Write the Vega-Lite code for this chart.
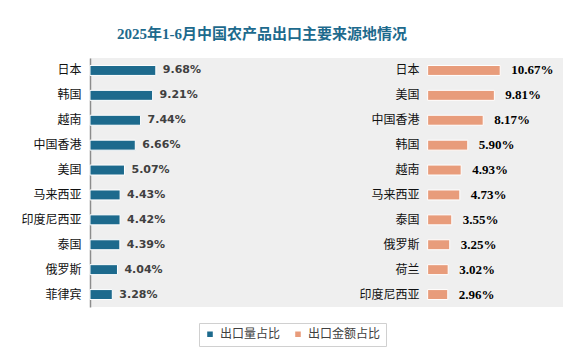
{
  "$schema": "https://vega.github.io/schema/vega-lite/v6.json",
  "background": "#ffffff",
  "padding": {"left": 20, "top": 27, "right": 25, "bottom": 16},
  "title": {"text": "2025年1-6月中国农产品出口主要来源地情况", "fontSize": 15, "font": "Liberation Serif, Noto Sans CJK SC", "fontWeight": "bold", "color": "#1d6a8d", "anchor": "middle", "offset": 16, "dx": -30},
  "data": {"values": [
    {"series": "出口量占比", "country": "日本", "value": 9.68, "label": "9.68%"},
    {"series": "出口量占比", "country": "韩国", "value": 9.21, "label": "9.21%"},
    {"series": "出口量占比", "country": "越南", "value": 7.44, "label": "7.44%"},
    {"series": "出口量占比", "country": "中国香港", "value": 6.66, "label": "6.66%"},
    {"series": "出口量占比", "country": "美国", "value": 5.07, "label": "5.07%"},
    {"series": "出口量占比", "country": "马来西亚", "value": 4.43, "label": "4.43%"},
    {"series": "出口量占比", "country": "印度尼西亚", "value": 4.42, "label": "4.42%"},
    {"series": "出口量占比", "country": "泰国", "value": 4.39, "label": "4.39%"},
    {"series": "出口量占比", "country": "俄罗斯", "value": 4.04, "label": "4.04%"},
    {"series": "出口量占比", "country": "菲律宾", "value": 3.28, "label": "3.28%"},
    {"series": "出口金额占比", "country": "日本", "value": 10.67, "label": "10.67%"},
    {"series": "出口金额占比", "country": "美国", "value": 9.81, "label": "9.81%"},
    {"series": "出口金额占比", "country": "中国香港", "value": 8.17, "label": "8.17%"},
    {"series": "出口金额占比", "country": "韩国", "value": 5.90, "label": "5.90%"},
    {"series": "出口金额占比", "country": "越南", "value": 4.93, "label": "4.93%"},
    {"series": "出口金额占比", "country": "马来西亚", "value": 4.73, "label": "4.73%"},
    {"series": "出口金额占比", "country": "泰国", "value": 3.55, "label": "3.55%"},
    {"series": "出口金额占比", "country": "俄罗斯", "value": 3.25, "label": "3.25%"},
    {"series": "出口金额占比", "country": "荷兰", "value": 3.02, "label": "3.02%"},
    {"series": "出口金额占比", "country": "印度尼西亚", "value": 2.96, "label": "2.96%"}
  ]},
  "spacing": 0,
  "hconcat": [
    {
      "width": 205,
      "height": 249,
      "transform": [{"filter": "datum.series === '出口量占比'"}],
      "encoding": {
        "y": {"field": "country", "type": "nominal", "sort": {"field": "value", "order": "descending"},
          "scale": {"paddingInner": 0.6, "paddingOuter": 0.3},
          "axis": {"title": null, "ticks": false, "domainColor": "#8c8c8c", "domainWidth": 1.5, "labelFontSize": 12, "labelColor": "#111111", "labelPadding": 9, "labelFont": "Noto Sans CJK SC"}},
        "x": {"field": "value", "type": "quantitative", "scale": {"domain": [0, 30.15]}, "axis": null}
      },
      "layer": [
        {"mark": {"type": "bar", "stroke": "#ffffff", "strokeWidth": 1},
         "encoding": {"color": {"field": "series", "type": "nominal",
           "scale": {"domain": ["出口量占比", "出口金额占比"], "range": ["#1d6a8d", "#e89c7b"]},
           "legend": {"title": null}}}},
        {"mark": {"type": "text", "align": "left", "baseline": "middle", "dx": 7, "fontWeight": "bold", "fontSize": 11, "color": "#404040", "font": "DejaVu Sans"},
         "encoding": {"text": {"field": "label"}}}
      ]
    },
    {
      "width": 268,
      "height": 249,
      "transform": [{"filter": "datum.series === '出口金额占比'"}],
      "encoding": {
        "y": {"field": "country", "type": "nominal", "sort": {"field": "value", "order": "descending"},
          "scale": {"paddingInner": 0.6, "paddingOuter": 0.3}, "axis": null},
        "x": {"field": "value", "type": "quantitative", "scale": {"domain": [-19.5, 19.9]}, "axis": null}
      },
      "layer": [
        {"mark": {"type": "bar", "stroke": "#ffffff", "strokeWidth": 1},
         "encoding": {"color": {"field": "series", "type": "nominal", "legend": {"title": null}}}},
        {"mark": {"type": "text", "align": "left", "baseline": "middle", "dx": 11, "fontWeight": "bold", "fontSize": 13, "color": "#000000", "font": "Liberation Serif"},
         "encoding": {"text": {"field": "label"}}},
        {"mark": {"type": "text", "align": "right", "baseline": "middle", "dx": -8, "fontSize": 12, "color": "#111111", "font": "Noto Sans CJK SC"},
         "encoding": {"x": {"datum": 0}, "text": {"field": "country"}}}
      ]
    }
  ],
  "config": {
    "view": {"stroke": null, "fill": "#efefef"},
    "legend": {"orient": "none", "legendX": 109, "legendY": 265, "direction": "horizontal", "strokeColor": "#d0d0d0", "padding": 5, "symbolType": "square", "symbolSize": 50, "labelFontSize": 12, "labelFont": "Noto Sans CJK SC", "labelColor": "#404040", "columnPadding": 10}
  }
}
